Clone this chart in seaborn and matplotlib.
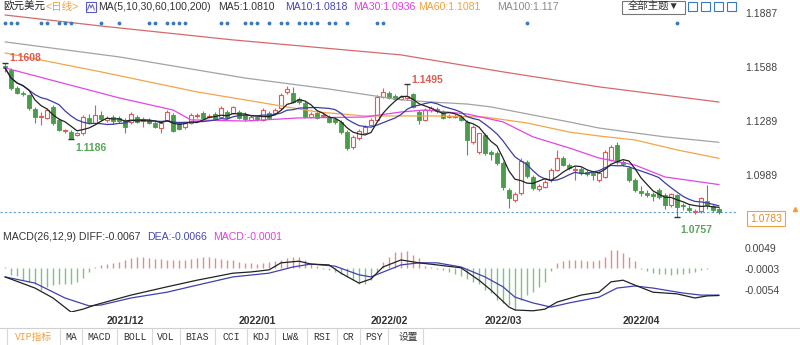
import numpy as np
import pandas as pd
import matplotlib
matplotlib.use("Agg")
import matplotlib.pyplot as plt
from matplotlib.patches import Rectangle
import seaborn as sns

sns.set_theme(style="white")
plt.rcParams["font.family"] = ["Liberation Sans", "Noto Sans CJK SC", "DejaVu Sans"]

# ---------------- daily EUR/USD candles ----------------
opens = [1.1593, 1.1571, 1.1471, 1.1443, 1.1432, 1.1355, 1.1310, 1.1305, 1.1366, 1.1294,
         1.1233, 1.1227, 1.1211, 1.1222, 1.1305, 1.1277, 1.1321, 1.1294, 1.1310, 1.1305,
         1.1294, 1.1283, 1.1310, 1.1288, 1.1294, 1.1277, 1.1249, 1.1294, 1.1321, 1.1277,
         1.1255, 1.1277, 1.1316, 1.1332, 1.1310, 1.1327, 1.1310, 1.1338, 1.1332, 1.1338,
         1.1327, 1.1294, 1.1310, 1.1294, 1.1332, 1.1332, 1.1360, 1.1449, 1.1443, 1.1410,
         1.1388, 1.1310, 1.1332, 1.1316, 1.1310, 1.1299, 1.1283, 1.1227, 1.1144, 1.1194,
         1.1222, 1.1266, 1.1294, 1.1421, 1.1443, 1.1427, 1.1410, 1.1416, 1.1438, 1.1338,
         1.1294, 1.1349, 1.1355, 1.1338, 1.1310, 1.1310, 1.1310, 1.1283, 1.1172, 1.1116,
         1.1211, 1.1116, 1.1111, 1.1055, 1.0906, 1.0850, 1.0889, 1.1061, 1.0978, 1.0911,
         1.0923, 1.0961, 1.1017, 1.1083, 1.1044, 1.1017, 1.1022, 1.1006, 1.1000, 1.0961,
         1.0978, 1.1072, 1.1155, 1.1061, 1.1028, 1.0961, 1.0900, 1.0889, 1.0884, 1.0906,
         1.0878, 1.0823, 1.0878, 1.0823, 1.0806, 1.0784, 1.0790, 1.0845, 1.0817, 1.0801]
highs = [1.1608, 1.1582, 1.1482, 1.1454, 1.1438, 1.1366, 1.1338, 1.1360, 1.1377, 1.1305,
         1.1244, 1.1238, 1.1227, 1.1321, 1.1327, 1.1377, 1.1344, 1.1316, 1.1321, 1.1316,
         1.1305, 1.1338, 1.1321, 1.1310, 1.1305, 1.1288, 1.1288, 1.1349, 1.1332, 1.1288,
         1.1283, 1.1332, 1.1332, 1.1344, 1.1327, 1.1338, 1.1371, 1.1349, 1.1371, 1.1349,
         1.1338, 1.1321, 1.1316, 1.1360, 1.1344, 1.1360, 1.1443, 1.1482, 1.1477, 1.1421,
         1.1399, 1.1338, 1.1344, 1.1332, 1.1321, 1.1305, 1.1294, 1.1238, 1.1211, 1.1244,
         1.1266, 1.1305, 1.1432, 1.1471, 1.1454, 1.1438, 1.1432, 1.1495, 1.1443, 1.1349,
         1.1360, 1.1371, 1.1366, 1.1349, 1.1327, 1.1327, 1.1321, 1.1294, 1.1266, 1.1222,
         1.1222, 1.1128, 1.1122, 1.1067, 1.0917, 1.0895, 1.1083, 1.1072, 1.0989, 1.0939,
         1.0961, 1.1028, 1.1128, 1.1094, 1.1055, 1.1039, 1.1033, 1.1017, 1.1011, 1.1011,
         1.1128, 1.1155, 1.1172, 1.1072, 1.1039, 1.0972, 1.0928, 1.0906, 1.0895, 1.0917,
         1.0889, 1.0889, 1.0884, 1.0834, 1.0823, 1.0801, 1.0867, 1.0934, 1.0828, 1.0812]
lows = [1.1560, 1.1460, 1.1438, 1.1427, 1.1349, 1.1277, 1.1266, 1.1299, 1.1266, 1.1233,
        1.1222, 1.1186, 1.1205, 1.1211, 1.1272, 1.1272, 1.1288, 1.1283, 1.1272, 1.1277,
        1.1222, 1.1272, 1.1277, 1.1255, 1.1272, 1.1249, 1.1222, 1.1288, 1.1227, 1.1238,
        1.1244, 1.1272, 1.1305, 1.1299, 1.1305, 1.1294, 1.1305, 1.1299, 1.1327, 1.1299,
        1.1288, 1.1288, 1.1288, 1.1288, 1.1299, 1.1321, 1.1349, 1.1438, 1.1388, 1.1382,
        1.1305, 1.1305, 1.1299, 1.1310, 1.1277, 1.1272, 1.1216, 1.1128, 1.1133, 1.1183,
        1.1216, 1.1260, 1.1288, 1.1416, 1.1410, 1.1405, 1.1405, 1.1405, 1.1360, 1.1272,
        1.1288, 1.1338, 1.1332, 1.1299, 1.1305, 1.1305, 1.1288, 1.1100, 1.1161, 1.1105,
        1.1100, 1.1072, 1.1044, 1.0906, 1.0806, 1.0839, 1.0878, 1.0972, 1.0906, 1.0900,
        1.0917, 1.0950, 1.1011, 1.1039, 1.1017, 1.0961, 1.0989, 1.0983, 1.0961, 1.0950,
        1.0972, 1.1067, 1.1050, 1.1039, 1.0950, 1.0895, 1.0872, 1.0867, 1.0845, 1.0856,
        1.0801, 1.0812, 1.0757, 1.0795, 1.0784, 1.0773, 1.0778, 1.0801, 1.0784, 1.0773]
closes = [1.1582, 1.1471, 1.1443, 1.1438, 1.1360, 1.1310, 1.1316, 1.1349, 1.1277, 1.1238,
          1.1238, 1.1194, 1.1222, 1.1310, 1.1283, 1.1321, 1.1299, 1.1305, 1.1288, 1.1288,
          1.1255, 1.1327, 1.1283, 1.1299, 1.1277, 1.1255, 1.1277, 1.1338, 1.1233, 1.1244,
          1.1277, 1.1321, 1.1321, 1.1305, 1.1316, 1.1299, 1.1360, 1.1305, 1.1366, 1.1305,
          1.1299, 1.1310, 1.1299, 1.1349, 1.1305, 1.1349, 1.1432, 1.1465, 1.1393, 1.1393,
          1.1310, 1.1327, 1.1305, 1.1321, 1.1283, 1.1283, 1.1227, 1.1139, 1.1200, 1.1233,
          1.1255, 1.1294, 1.1421, 1.1449, 1.1416, 1.1410, 1.1421, 1.1427, 1.1366, 1.1294,
          1.1349, 1.1360, 1.1344, 1.1305, 1.1316, 1.1316, 1.1294, 1.1183, 1.1255, 1.1222,
          1.1111, 1.1105, 1.1055, 1.0923, 1.0861, 1.0884, 1.1067, 1.0983, 1.0917, 1.0928,
          1.0950, 1.1017, 1.1083, 1.1044, 1.1028, 1.1022, 1.1000, 1.0995, 1.0989, 1.1000,
          1.1116, 1.1144, 1.1061, 1.1050, 1.0961, 1.0906, 1.0889, 1.0878, 1.0872, 1.0867,
          1.0823, 1.0884, 1.0812, 1.0817, 1.0795, 1.0790, 1.0861, 1.0823, 1.0793, 1.0783]

# long moving averages (need history before the window), sampled by day
ma30_day = [0, 19, 28, 31, 40, 49, 60, 66, 70, 77, 83, 88, 94, 99, 105, 110, 119]
ma30_val = [1.1582, 1.1416, 1.1349, 1.1294, 1.1288, 1.1305, 1.1310, 1.1338, 1.1349, 1.1327,
            1.1283, 1.1200, 1.1139, 1.1083, 1.1044, 1.0978, 1.0936]
ma60_day = [0, 16, 32, 40, 45, 52, 60, 66, 71, 80, 87, 94, 99, 105, 112, 119]
ma60_val = [1.1665, 1.1560, 1.1449, 1.1405, 1.1377, 1.1338, 1.1316, 1.1316, 1.1316, 1.1310,
            1.1277, 1.1227, 1.1205, 1.1183, 1.1128, 1.1081]
ma100_day = [0, 19, 40, 54, 66, 71, 77, 81, 88, 94, 99, 105, 110, 119]
ma100_val = [1.1726, 1.1643, 1.1526, 1.1465, 1.1405, 1.1393, 1.1382, 1.1366, 1.1321, 1.1283,
             1.1249, 1.1222, 1.1200, 1.1170]
ma200_day = [0, 16, 38, 66, 83, 99, 119]
ma200_val = [1.1875, 1.1814, 1.1737, 1.1654, 1.1560, 1.1477, 1.1393]

# MACD(26,12,9)
diff_day = [0, 5, 8, 11, 13, 15, 16, 21, 27, 32, 38, 41, 44, 46, 49, 51, 54, 56, 59, 61,
            63, 66, 69, 72, 76, 79, 81, 84, 85, 88, 90, 92, 96, 99, 101, 103, 105, 108, 112,
            115, 117, 119]
diff_val = [-0.0022, -0.0049, -0.0073, -0.0107, -0.0100, -0.0090, -0.0086, -0.0066, -0.0046,
            -0.0030, -0.0013, -0.0010, -0.0005, 0.0012, 0.0016, 0.0009, 0.0007, -0.0013,
            -0.0037, -0.0027, 0.0002, 0.0019, 0.0012, 0.0007, 0.0000, -0.0030, -0.0054,
            -0.0095, -0.0102, -0.0104, -0.0100, -0.0083, -0.0066, -0.0059, -0.0034, -0.0030,
            -0.0042, -0.0059, -0.0063, -0.0073, -0.0068, -0.0067]
dea_day = [0, 5, 10, 14, 16, 21, 27, 32, 38, 44, 48, 51, 55, 59, 61, 66, 69, 72, 76, 80,
           83, 85, 88, 91, 94, 99, 102, 105, 108, 113, 116, 119]
dea_val = [-0.0022, -0.0037, -0.0073, -0.0092, -0.0090, -0.0073, -0.0059, -0.0042, -0.0022,
           -0.0013, 0.0002, 0.0009, 0.0004, -0.0017, -0.0022, 0.0007, 0.0012, 0.0012, 0.0002,
           -0.0022, -0.0046, -0.0071, -0.0085, -0.0095, -0.0085, -0.0071, -0.0049, -0.0044,
           -0.0049, -0.0061, -0.0066, -0.0066]
macd_bar = [0.0002, -0.0017, -0.0019, -0.0030, -0.0034, -0.0038, -0.0054, -0.0046, -0.0042, -0.0040,
            -0.0038, -0.0038, -0.0034, -0.0025, -0.0010, 0.0003, 0.0006, 0.0009, 0.0012, 0.0015,
            0.0018, 0.0024, 0.0026, 0.0026, 0.0024, 0.0022, 0.0022, 0.0020, 0.0018, 0.0018,
            0.0020, 0.0022, 0.0024, 0.0026, 0.0026, 0.0024, 0.0022, 0.0020, 0.0018, 0.0014,
            0.0012, 0.0012, 0.0010, 0.0012, 0.0014, 0.0016, 0.0020, 0.0024, 0.0026, 0.0026,
            0.0020, 0.0010, 0.0004, -0.0003, -0.0006, -0.0010, -0.0015, -0.0022, -0.0030, -0.0040,
            -0.0040, -0.0030, -0.0010, 0.0014, 0.0026, 0.0038, 0.0038, 0.0040, 0.0030, 0.0024,
            0.0005, 0.0003, -0.0002, -0.0005, -0.0010, -0.0014, -0.0020, -0.0026, -0.0034, -0.0040,
            -0.0054, -0.0062, -0.0078, -0.0085, -0.0090, -0.0102, -0.0078, -0.0066, -0.0058, -0.0046,
            -0.0034, -0.0008, 0.0012, 0.0016, 0.0019, 0.0019, 0.0019, 0.0017, 0.0017, 0.0019,
            0.0026, 0.0043, 0.0042, 0.0036, 0.0026, 0.0017, -0.0003, -0.0008, -0.0012, -0.0015,
            -0.0015, -0.0018, -0.0015, -0.0015, -0.0012, -0.0010, -0.0005, -0.0002, -0.0001, -0.0001]

event_days = [0, 1, 2, 6, 7, 9, 10, 11, 16, 19, 24, 25, 27, 28, 29, 30, 36, 37, 40, 41, 42,
              44, 46, 47, 49, 50, 51, 52, 54, 55, 57, 62, 63, 87, 112]
month_days = [20, 42, 64, 83, 106]
month_labels = ["2021/12", "2022/01", "2022/02", "2022/03", "2022/04"]
price_ticks = [1.1887, 1.1588, 1.1289, 1.0989]
macd_ticks = [0.0049, -0.0003, -0.0054]
extreme_days = [0, 11, 67, 112]
extreme_kind = ["high", "low", "high", "low"]

# ---------------- frame ----------------
UP, DOWN = "#e05a5a", "#4a9c4a"
W, H = 800, 345
fig = plt.figure(figsize=(W / 100, H / 100), dpi=100)
fig.patch.set_facecolor("white")


def box(x0, y0, x1, y1):
    return [x0 / W, 1 - y1 / H, (x1 - x0) / W, (y1 - y0) / H]


ax = fig.add_axes(box(0, 0, 738, 228))
ax2 = fig.add_axes(box(0, 230, 738, 312))
for a in (ax, ax2):
    a.set_facecolor("none")
    for s in a.spines.values():
        s.set_visible(False)
    a.set_xlim(-5 / 6, 733 / 6)
    a.yaxis.tick_right()
    a.tick_params(axis="y", length=0, pad=5, labelsize=7.5, labelcolor="#444444")
    a.grid(False)

df = pd.DataFrame({"day": np.arange(len(closes)), "open": opens, "high": highs,
                   "low": lows, "close": closes})
df["ma5"] = df["close"].rolling(5, min_periods=1).mean()
df["ma10"] = df["close"].rolling(10, min_periods=1).mean()

# ---------------- price panel ----------------
ax.set_ylim(1.06955, 1.19580)
ax.set_yticks(price_ticks)
ax.set_yticklabels([f"{t:.4f}" for t in price_ticks])
ax.set_xticks([])

up = df["close"] >= df["open"]
lo = np.minimum(df["open"], df["close"])
hgt = np.maximum((df["close"] - df["open"]).abs(), 0.00004)
ax.vlines(df["day"], df["low"], df["high"], colors=np.where(up, UP, DOWN), lw=0.8, zorder=2)
ax.bar(df["day"][up], hgt[up], bottom=lo[up], width=0.7, facecolor="white",
       edgecolor=UP, linewidth=0.8, zorder=3)
ax.bar(df["day"][~up], hgt[~up], bottom=lo[~up], width=0.7, facecolor=DOWN,
       edgecolor=DOWN, linewidth=0.6, zorder=3)

for days_, vals_, col in [(ma200_day, ma200_val, "#d46a6a"), (ma100_day, ma100_val, "#a3a3a3"),
                          (ma60_day, ma60_val, "#f2a54a"), (ma30_day, ma30_val, "#e445e4")]:
    sns.lineplot(x=days_, y=vals_, ax=ax, color=col, linewidth=0.9, estimator=None,
                 sort=False, zorder=4)
sns.lineplot(data=df, x="day", y="ma10", ax=ax, color="#3c3ca8", linewidth=0.9,
             estimator=None, zorder=5)
sns.lineplot(data=df, x="day", y="ma5", ax=ax, color="#222222", linewidth=0.9,
             estimator=None, zorder=5)
ax.set_xlabel("")
ax.set_ylabel("")

# last price
last = closes[-1]
ax.axhline(last, color="#5b9bd5", lw=0.8, ls=(0, (2, 2)), zorder=1)

# event dots along the top
ax.scatter(event_days, np.full(len(event_days), 0.899), transform=ax.get_xaxis_transform(),
           s=3, color="#3a7ab8", zorder=6)

# extreme markers
for d, kind in zip(extreme_days, extreme_kind):
    v = highs[d] if kind == "high" else lows[d]
    col = "#e05a50" if kind == "high" else "#5aa55a"
    off = (20, 5) if kind == "high" else (20, -9)
    if d == 67:
        off = (20, 4)
    if d == 112:
        off = (19, -13)
    ax.plot([d], [v], marker="_", color="#333333", ms=5, mew=1, zorder=6)
    ax.annotate(f"{v:.4f}", xy=(d, v), xytext=off, textcoords="offset pixels",
                ha="center", va="center", color=col, fontsize=7.5, fontweight="bold",
                zorder=7)

# ---------------- MACD panel ----------------
ax2.set_ylim(-0.010689, 0.009141)
ax2.set_yticks(macd_ticks)
ax2.set_yticklabels([f"{t:.4f}" for t in macd_ticks])
bars = np.array(macd_bar)
ax2.vlines(np.arange(len(bars)), 0, bars, colors=np.where(bars >= 0, "#e58a8a", "#86bd86"),
           lw=1.0, zorder=2)
sns.lineplot(x=dea_day, y=dea_val, ax=ax2, color="#4040b0", linewidth=0.9, estimator=None,
             sort=False, zorder=3)
sns.lineplot(x=diff_day, y=diff_val, ax=ax2, color="#222222", linewidth=0.9, estimator=None,
             sort=False, zorder=4)
ax2.set_xlabel("")
ax2.set_ylabel("")
ax2.set_xticks(month_days)
ax2.set_xticklabels(month_labels, fontsize=7.5, fontweight="bold", color="#333333")
ax2.tick_params(axis="x", length=0, pad=3)

# ---------------- chrome: headers, buttons, tabs ----------------
ov = fig.add_axes([0, 0, 1, 1], zorder=10)
ov.set_xlim(0, W)
ov.set_ylim(H, 0)
ov.axis("off")

hdr = dict(ha="left", va="center", fontsize=7.6)
ov.text(3, 7, "欧元美元", color="#222222", **hdr)
ov.text(45, 7, "<日线>", color="#f0a040", **hdr)
ov.add_patch(Rectangle((86, 2), 10, 10, fill=False, ec="#5b5bc8", lw=0.8))
ov.plot([87.5, 89.5, 91, 92.5, 94.5], [10, 4.5, 8, 4.5, 10], color="#5b5bc8", lw=0.7)
ov.text(98, 7, "MA(5,10,30,60,100,200)", color="#333333", **hdr)
ov.text(218, 7, "MA5:1.0810", color="#333333", **hdr)
ov.text(285, 7, "MA10:1.0818", color="#4646b4", **hdr)
ov.text(353, 7, "MA30:1.0936", color="#e23ee2", **hdr)
ov.text(418, 7, "MA60:1.1081", color="#f0a040", **hdr)
ov.text(497, 7, "MA100:1.117", color="#8a8a8a", **hdr)

ov.add_patch(Rectangle((622, 0.5), 63, 13, fc="white", ec="#777777", lw=0.8))
ov.text(653.5, 7, "全部主题▼", ha="center", va="center", fontsize=7.5, color="#333333")
for x0 in (688, 701, 714, 727):
    ov.add_patch(Rectangle((x0, 2), 9, 9, fill=False, ec="#3a78c0", lw=0.8))

ov.text(3, 237, "MACD(26,12,9) DIFF:-0.0067", color="#333333", **hdr)
ov.text(147, 237, "DEA:-0.0066", color="#4646b4", **hdr)
ov.text(213, 237, "MACD:-0.0001", color="#e23ee2", **hdr)

ov.text(766, 218.5, f"{last:.4f}", ha="center", va="center", color="#e0902a", fontsize=7.5,
        bbox=dict(boxstyle="square,pad=0.25", fc="white", ec="#f0a040", lw=0.8))
ov.plot([795], [209], marker="^", ms=3, color="#f0a040")

ov.plot([0, 800], [327.5, 327.5], color="#d0d0d0", lw=0.8)
for xs in (7, 60, 82, 117, 152, 180, 215, 247, 275, 307, 337, 360, 388, 423):
    ov.plot([xs, xs], [329, 345], color="#d8d8d8", lw=0.8)
tabs = [("VIP指标", 33.5), ("MA", 71), ("MACD", 99.5), ("BOLL", 134.5), ("VOL", 166),
        ("BIAS", 197.5), ("CCI", 231), ("KDJ", 261), ("LW&", 291), ("RSI", 322),
        ("CR", 348.5), ("PSY", 374), ("设置", 408)]
for name, xc in tabs:
    ov.text(xc, 337, name, ha="center", va="center", fontsize=7,
            family=["Liberation Mono", "Noto Sans CJK SC"],
            color="#f0a040" if name == "VIP指标" else "#333333")

fig.savefig("out.png", dpi=100, facecolor="white")
